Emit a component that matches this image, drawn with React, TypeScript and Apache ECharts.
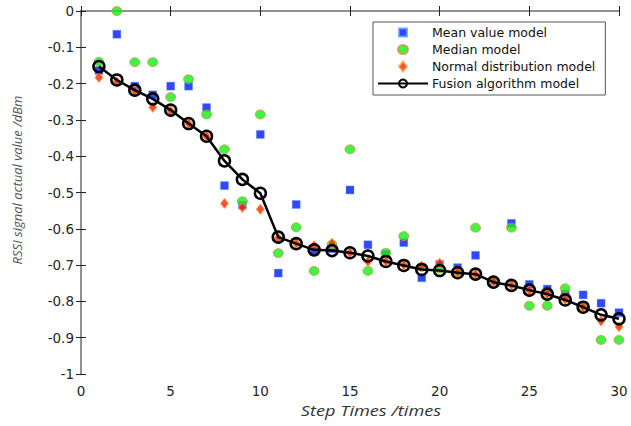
import React, { useEffect, useRef } from "react";
import * as echarts from "echarts";

const steps = [1,2,3,4,5,6,7,8,9,10,11,12,13,14,15,16,17,18,19,20,21,22,23,24,25,26,27,28,29,30];
const meanValues = [-0.164,-0.064,-0.207,-0.231,-0.207,-0.207,-0.266,-0.481,-0.535,-0.34,-0.722,-0.533,-0.663,-0.655,-0.493,-0.644,-0.67,-0.638,-0.735,-0.698,-0.707,-0.673,-0.745,-0.585,-0.753,-0.766,-0.78,-0.782,-0.805,-0.831];
const medianValues = [-0.14,0,-0.141,-0.141,-0.237,-0.188,-0.285,-0.381,-0.524,-0.285,-0.667,-0.596,-0.716,-0.643,-0.381,-0.716,-0.666,-0.62,-0.705,-0.71,-0.72,-0.597,-0.742,-0.597,-0.812,-0.812,-0.764,-0.815,-0.906,-0.906];
const normalValues = [-0.183,-0.195,-0.22,-0.265,-0.275,-0.31,-0.345,-0.53,-0.541,-0.546,-0.625,-0.64,-0.647,-0.64,-0.666,-0.69,-0.69,-0.7,-0.703,-0.695,-0.72,-0.725,-0.745,-0.755,-0.77,-0.78,-0.795,-0.815,-0.854,-0.87];
const fusionValues = [-0.153,-0.19,-0.218,-0.242,-0.273,-0.31,-0.345,-0.413,-0.464,-0.502,-0.623,-0.641,-0.658,-0.66,-0.666,-0.675,-0.69,-0.701,-0.712,-0.715,-0.721,-0.725,-0.747,-0.756,-0.769,-0.78,-0.796,-0.816,-0.837,-0.848];
const seriesNames = ["Mean value model", "Median model", "Normal distribution model", "Fusion algorithm model"];
const xTitle = "Step Times /times";
const yTitle = "RSSI signal actual value /dBm";

const pair = (vals: number[]) => steps.map((s, i) => [s, vals[i]]);

export default function App() {
  const ref = useRef<HTMLDivElement>(null);
  useEffect(() => {
    if (!ref.current) return;
    const chart = echarts.init(ref.current, undefined, { renderer: "svg" });
    const font = "'DejaVu Sans', sans-serif";
    const axisLine = { show: true, lineStyle: { color: "#8a8a8a", width: 1.5 } };
    const tick = { show: true, inside: true, length: 5, lineStyle: { color: "#222", width: 1 } };
    const labelStyle = { color: "#262626", fontSize: 13.5, fontFamily: font };
    chart.setOption({
      animation: false,
      backgroundColor: "#fff",
      grid: { left: 81, right: 12, top: 11, bottom: 52, containLabel: false },
      legend: {
        orient: "vertical",
        left: 373,
        top: 22,
        itemWidth: 50,
        itemHeight: 10,
        itemGap: 4,
        padding: [4, 10, 5, 4],
        backgroundColor: "#fff",
        borderColor: "#555",
        borderWidth: 1,
        borderRadius: 0,
        textStyle: { color: "#111", fontSize: 12.5, fontFamily: font, padding: [0, 0, 0, -1] },
        data: [
          { name: seriesNames[0], icon: "path://M0 0M50 10M21 1h8v8h-8z" },
          { name: seriesNames[1], icon: "path://M0 0M50 10M20 5a5 4.5 0 1 0 10 0a5 4.5 0 1 0 -10 0z" },
          { name: seriesNames[2], icon: "path://M0 0M50 10M25 0L29 5L25 10L21 5Z" },
          { name: seriesNames[3] },
        ],
      },
      xAxis: [
        {
          type: "value", min: 0, max: 30, interval: 5, position: "bottom",
          axisLine, axisTick: tick, splitLine: { show: false },
          axisLabel: { ...labelStyle, margin: 10 },
        },
        {
          type: "value", min: 0, max: 30, interval: 5, position: "top",
          axisLine, axisTick: tick, splitLine: { show: false },
          axisLabel: { show: false },
        },
      ],
      yAxis: [
        {
          type: "value", min: -1, max: 0, interval: 0.1, position: "left",
          axisLine, axisTick: tick, splitLine: { show: false },
          axisLabel: { ...labelStyle, margin: 7, formatter: (v: number) => String(Number(v.toFixed(1))) },
        },
        {
          type: "value", min: -1, max: 0, interval: 0.1, position: "right",
          axisLine, axisTick: tick, splitLine: { show: false },
          axisLabel: { show: false },
        },
      ],
      graphic: [
        {
          type: "text", x: 371, y: 411, scaleX: 1.3,
          style: { text: xTitle, fill: "#333", fontSize: 14, fontStyle: "italic", fontFamily: "'Open Sans', sans-serif", align: "center", verticalAlign: "middle" },
        },
        {
          type: "text", x: 17, y: 180, rotation: Math.PI / 2,
          style: { text: yTitle, fill: "#555", fontSize: 13, fontStyle: "italic", fontFamily: "'Open Sans', sans-serif", align: "center", verticalAlign: "middle" },
        },
      ],
      series: [
        {
          name: seriesNames[0], type: "scatter", data: pair(meanValues),
          symbol: "rect", symbolSize: 8,
          itemStyle: { color: "#0018f8", borderColor: "#5aa0ff", borderWidth: 0.5 },
        },
        {
          name: seriesNames[1], type: "scatter", data: pair(medianValues),
          symbol: "circle", symbolSize: [10, 9],
          itemStyle: { color: "#14f014", borderColor: "#d98a4a", borderWidth: 0.9 },
        },
        {
          name: seriesNames[2], type: "scatter", data: pair(normalValues),
          symbol: "diamond", symbolSize: [8, 10],
          itemStyle: { color: "#ff2000", borderColor: "#ffa040", borderWidth: 0.9 },
        },
        {
          name: seriesNames[3], type: "line", data: pair(fusionValues),
          symbol: "circle", symbolSize: 11, showAllSymbol: true,
          lineStyle: { color: "#000", width: 2.5 },
          itemStyle: { color: "rgba(0,0,0,0)", borderColor: "#000", borderWidth: 2.5 },
          z: 5,
        },
      ],
    });
    return () => chart.dispose();
  }, []);
  return <div ref={ref} style={{ width: 631, height: 426, position: "absolute", left: 0, top: 0 }} />;
}
